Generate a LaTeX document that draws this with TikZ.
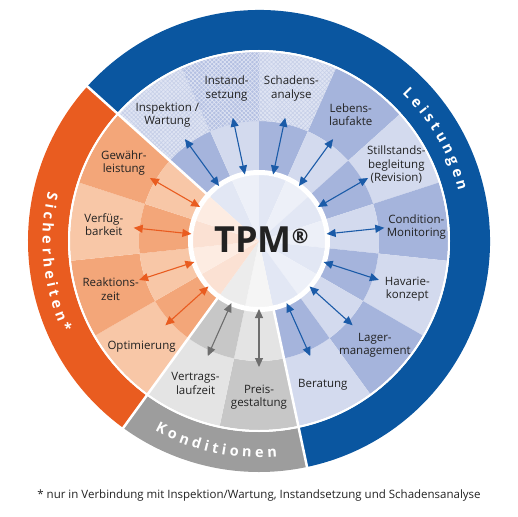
\documentclass[tikz,border=0pt]{standalone}
\usepackage{fontspec}
\setmainfont{Open Sans}
\usetikzlibrary{arrows.meta,patterns.meta,decorations.text}

\definecolor{bDark}{HTML}{0A56A0}
\definecolor{bM}{HTML}{A5B4DC}
\definecolor{bL}{HTML}{D3DAEE}
\definecolor{oDark}{HTML}{E95C20}
\definecolor{oM}{HTML}{F3A679}
\definecolor{oL}{HTML}{F8C7A7}
\definecolor{gDark}{HTML}{9D9D9D}
\definecolor{gM}{HTML}{C7C7C7}
\definecolor{gL}{HTML}{E4E4E4}
\definecolor{dB1}{HTML}{E2E7F4}
\definecolor{dB2}{HTML}{EDF0F8}
\definecolor{dO1}{HTML}{FBE1D3}
\definecolor{dO2}{HTML}{FDECE2}
\definecolor{dG1}{HTML}{ECECEC}
\definecolor{dG2}{HTML}{F5F5F5}
\definecolor{arB}{HTML}{1B5BA8}
\definecolor{arO}{HTML}{E95C20}
\definecolor{arG}{HTML}{6E6E6E}
\definecolor{txt}{HTML}{222222}
\definecolor{patL}{HTML}{DFE4F3}
\definecolor{patLline}{HTML}{C6CFE8}
\definecolor{patD}{HTML}{B4C0E2}

\newcommand\annsec[5]{\path[#1] (#2:#4) arc[start angle=#2,end angle=#3,radius=#4] -- (#3:#5) arc[start angle=#3,end angle=#2,radius=#5] -- cycle;}
\newcommand\ringfont{\color{white}\bfseries\fontsize{14.5}{14.5}\selectfont}

\tikzset{
  lbl/.style={font=\fontsize{11.5}{13.5}\selectfont, align=center, text=txt},
  arrowB/.style={draw=arB, line width=1.1pt, {Triangle[length=9pt,width=8pt]}-{Triangle[length=9pt,width=8pt]}},
  arrowO/.style={arrowB, draw=arO},
  arrowG/.style={arrowB, draw=arG},
  sep/.style={white, line width=2.5pt}
}

\begin{document}
\begin{tikzpicture}[x=1pt,y=1pt]
\useasboundingbox (-259,-275) rectangle (259,241);

% outer rings
\annsec{fill=bDark}{138}{-78}{191}{231}
\annsec{fill=oDark}{138}{234}{191}{231}
\annsec{fill=gDark}{234}{282}{191}{231}

% sector bands
\foreach \i/\oc/\ic/\dc in {0/bL/bM/dB1, 1/bM/bL/dB2, 2/bL/bM/dB1, 3/bM/bL/dB2, 4/bL/bM/dB1, 5/bM/bL/dB2, 6/bL/bM/dB1, 7/bM/bL/dB2, 8/bL/bM/dB1, 9/gM/gL/dG2, 10/gL/gM/dG1, 11/oL/oM/dO1, 12/oM/oL/dO2, 13/oL/oM/dO1, 14/oM/oL/dO2}{
  \pgfmathsetmacro\aa{138-24*\i}
  \pgfmathsetmacro\ab{114-24*\i}
  \annsec{fill=\oc}{\aa}{\ab}{120}{189}
  \annsec{fill=\ic}{\aa}{\ab}{66}{120}
  \annsec{fill=\dc}{\aa}{\ab}{0}{66}
}
% patterned outer bands
\annsec{fill=patL, postaction={pattern={Hatch[angle=45,distance=3pt,line width=0.6pt]}, pattern color=patLline}}{138}{114}{120}{189}
\annsec{fill=patD, postaction={pattern={Hatch[angle=45,distance=3pt,line width=0.6pt]}, pattern color=patL}}{114}{90}{120}{189}
\annsec{fill=patL, postaction={pattern={Hatch[angle=45,distance=3pt,line width=0.6pt]}, pattern color=patLline}}{90}{66}{120}{189}

% white gaps
\draw[white, line width=2pt] (0,0) circle (190);
\draw[white, line width=5pt] (0,0) circle (68.5);
\draw[sep] (138:66) -- (138:232);
\draw[sep] (-78:66) -- (-78:232);
\draw[sep] (-126:66) -- (-126:232);

% arrows
\foreach \i in {0,...,8}{
  \pgfmathsetmacro\c{126-24*\i}
  \coordinate (in\i) at (\c:68);
  \coordinate (out\i) at (\c:126);
  \draw[arrowB] (in\i) -- (out\i);
}
\foreach \i in {9,10}{
  \pgfmathsetmacro\c{126-24*\i}
  \coordinate (in\i) at (\c:68);
  \coordinate (out\i) at (\c:126);
  \draw[arrowG] (in\i) -- (out\i);
}
\foreach \i in {11,...,14}{
  \pgfmathsetmacro\c{126-24*\i}
  \coordinate (in\i) at (\c:68);
  \coordinate (out\i) at (\c:126);
  \draw[arrowO] (in\i) -- (out\i);
}

% labels
\node[lbl] (l0) at (126:156) {Inspektion /\\Wartung};
\node[lbl] (l1) at (102:156) {Instand-\\setzung};
\node[lbl] (l2) at (78:156) {Schadens-\\analyse};
\node[lbl] (l3) at (54:156) {Lebens-\\laufakte};
\node[lbl] (l4) at (29:157) {Stillstands-\\begleitung\\(Revision)};
\node[lbl] (l5) at (5:158) {Condition-\\Monitoring};
\node[lbl] (l6) at (-18:156) {Havarie-\\konzept};
\node[lbl] (l7) at (-42:156) {Lager-\\management};
\node[lbl] (l8) at (-66:157) {Beratung};
\node[lbl] (l9) at (-90:156) {Preis-\\gestaltung};
\node[lbl] (l10) at (-114:156) {Vertrags-\\laufzeit};
\node[lbl] (l11) at (-138:158) {Optimierung};
\node[lbl] (l12) at (-162:156) {Reaktions-\\zeit};
\node[lbl] (l13) at (174:156) {Verfüg-\\barkeit};
\node[lbl] (l14) at (150:156) {Gewähr-\\leistung};

% centre
\node[anchor=base, text=txt, font=\bfseries\fontsize{36}{36}\selectfont, inner sep=0pt] (tpm) at (2.5,-11) {TPM{\fontsize{20}{20}\selectfont\raisebox{9pt}{®}}};

% ring texts
\path[decorate, decoration={text along path, text={|\ringfont|L e i s t u n g e n}, text align=center}] (75:205.5) arc[start angle=75, end angle=-15, radius=205.5];
\path[decorate, decoration={text along path, text={|\ringfont|S i c h e r h e i t e n *}, text align=center}] (140:216.5) arc[start angle=140, end angle=232, radius=216.5];
\path[decorate, decoration={text along path, text={|\ringfont|K o n d i t i o n e n}, text align=center}] (-125:216.5) arc[start angle=-125, end angle=-79, radius=216.5];

% footnote
\node[font=\fontsize{11.5}{13}\selectfont, text=txt] (foot) at (0,-255) {* nur in Verbindung mit Inspektion/Wartung, Instandsetzung und Schadensanalyse};
\end{tikzpicture}
\end{document}
